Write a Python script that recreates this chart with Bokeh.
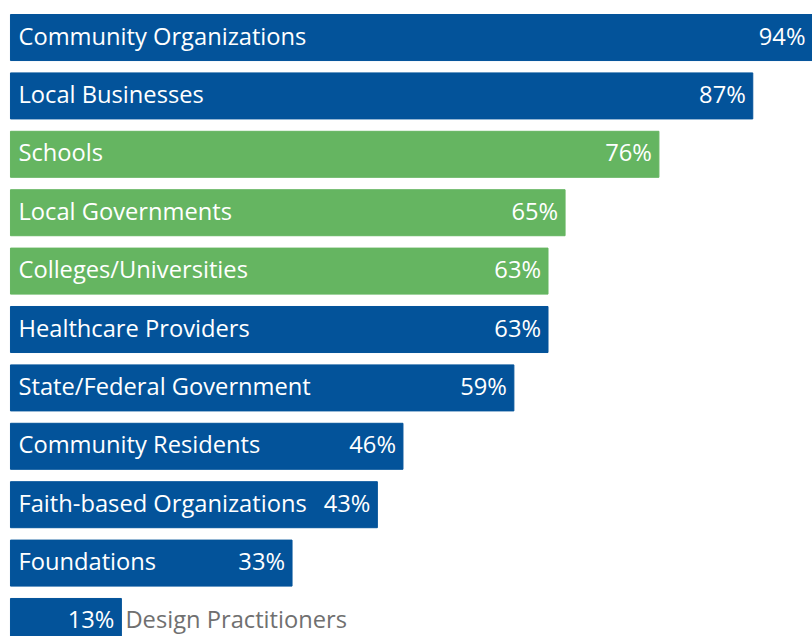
from bokeh.plotting import figure
from bokeh.models import ColumnDataSource, Range1d
from bokeh.core.properties import value
from bokeh.embed import file_html
from bokeh.resources import INLINE

categories = ["Community Organizations", "Local Businesses", "Schools", "Local Governments",
              "Colleges/Universities", "Healthcare Providers", "State/Federal Government",
              "Community Residents", "Faith-based Organizations", "Foundations",
              "Design Practitioners"]
percent = [94, 87, 76, 65, 63, 63, 59, 46, 43, 33, 13]
group = ["blue", "blue", "green", "green", "green", "blue", "blue", "blue", "blue", "blue", "blue"]

BLUE = "#03539a"
GREEN = "#65b561"
FONT = "Open Sans"
SIZE = "23.7px"

n = len(categories)
idx = list(range(n))
colors = [BLUE if g == "blue" else GREEN for g in group]
pct_labels = [f"{v}%" for v in percent]

src = ColumnDataSource(dict(y=idx, v=percent, cat=categories, color=colors, lab=pct_labels))

p = figure(width=812, height=636, output_backend="svg", toolbar_location=None,
           x_range=Range1d(-1.17, 94), y_range=Range1d(10.257, -0.634),
           min_border=0, outline_line_color=None, background_fill_color="white")
p.axis.visible = False
p.grid.visible = False

p.hbar(y="y", left=0, right="v", height=0.788, color="color", source=src)

inside = ColumnDataSource(dict(y=idx[:-1], v=percent[:-1], cat=categories[:-1], lab=pct_labels[:-1]))
p.text(x=0, y="y", text="cat", source=inside, x_offset=8, y_offset=-2, text_color="white",
       text_font=value(FONT), text_font_size=SIZE, text_baseline="middle", text_align="left")
p.text(x="v", y="y", text="lab", source=src, x_offset=-7, y_offset=-2, text_color="white",
       text_font=value(FONT), text_font_size=SIZE, text_baseline="middle", text_align="right")

last = ColumnDataSource(dict(y=[idx[-1]], v=[percent[-1]], cat=[categories[-1]]))
p.text(x="v", y="y", text="cat", source=last, x_offset=4, y_offset=-2, text_color="#707070",
       text_font=value(FONT), text_font_size=SIZE, text_baseline="middle", text_align="left")

open("out.html", "w").write(file_html(p, INLINE))
